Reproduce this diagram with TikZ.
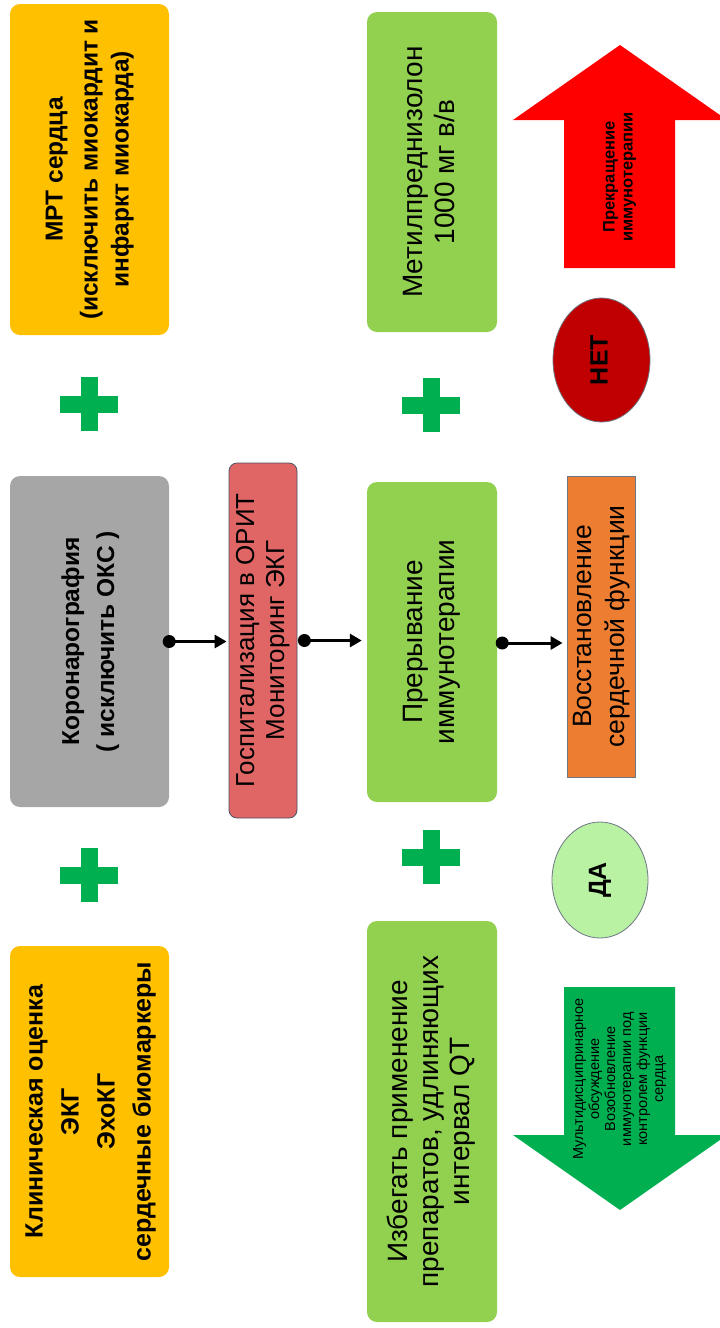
\documentclass[tikz,border=0pt]{standalone}
\usepackage{fontspec}
\setmainfont{Liberation Sans}
\usepackage{graphicx}
\usetikzlibrary{arrows.meta,shapes.geometric}
\definecolor{cyellow}{HTML}{FFC000}
\definecolor{cgray}{HTML}{A6A6A6}
\definecolor{cgreen}{HTML}{92D050}
\definecolor{cpink}{HTML}{E06666}
\definecolor{corange}{HTML}{ED7D31}
\definecolor{cred}{HTML}{FF0000}
\definecolor{cdred}{HTML}{C00000}
\definecolor{cbgreen}{HTML}{00B050}
\definecolor{clgreen}{HTML}{B9F2A3}
\definecolor{cborder}{HTML}{4A5266}
\newcommand{\vtxt}[3]{\rotatebox{90}{\fontsize{#1}{#2}\selectfont\begin{tabular}{@{}c@{}}#3\end{tabular}}}
\tikzset{
  rbox/.style={rectangle, rounded corners=10, inner sep=0, text=black},
  conn/.style={line width=3, -{Triangle[length=12,width=13]}},
  dot/.style={fill=black},
  plus/.style={fill=cbgreen},
}
\begin{document}
\begin{tikzpicture}[x=1pt,y=-1pt]
\useasboundingbox (0,0) rectangle (720,1328);
\clip (0,0) rectangle (720,1328);
% left column
\node[rbox, fill=cyellow, minimum width=159, minimum height=331] (mrt) at (89.5,169.5)
  {\vtxt{24.5}{31}{\bfseries МРТ сердца\\[4pt] \bfseries (исключить миокардит и\\ \bfseries инфаркт миокарда)}};
\node[rbox, fill=cgray, minimum width=159, minimum height=331] (koro) at (89.5,641.5)
  {\vtxt{24.5}{35}{\bfseries Коронарография\\ \bfseries ( исключить ОКС )}};
\node[rbox, fill=cyellow, minimum width=159, minimum height=331] (clin) at (89.5,1111.5)
  {\vtxt{25}{36}{\bfseries Клиническая оценка\\ \bfseries ЭКГ\\ \bfseries ЭхоКГ\\ \bfseries сердечные биомаркеры}};
% hospital
\node[rbox, rounded corners=8, fill=cpink, draw=cborder, line width=0.8, minimum width=68, minimum height=355] (gosp) at (263,640.5)
  {\vtxt{26}{30}{Госпитализация в ОРИТ\\ Мониторинг ЭКГ}};
% green boxes
\node[rbox, fill=cgreen, minimum width=130, minimum height=320] (metil) at (432,172)
  {\vtxt{28}{32}{Метилпреднизолон\\ 1000 мг в/в}};
\node[rbox, fill=cgreen, minimum width=130, minimum height=320] (prer) at (432,642)
  {\vtxt{28}{32}{Прерывание\\ иммунотерапии}};
\node[rbox, fill=cgreen, minimum width=130, minimum height=401] (izbeg) at (432,1121.5)
  {\vtxt{28}{31}{Избегать применение\\ препаратов, удлиняющих\\ интервал QT}};
% restoration
\node[rectangle, inner sep=0, fill=corange, draw=cborder!80, line width=0.8, minimum width=68, minimum height=301] (vosst) at (601,626.5)
  {\vtxt{26.5}{33}{Восстановление\\ сердечной функции}};
% ellipses
\node[ellipse, inner sep=0, fill=cdred, draw=cborder!80, line width=0.8, minimum width=97, minimum height=124] (net) at (601.5,360)
  {\vtxt{25}{30}{\bfseries НЕТ}};
\node[ellipse, inner sep=0, fill=clgreen, draw=cborder!80, line width=0.8, minimum width=96, minimum height=116] (da) at (600,880)
  {\vtxt{25}{30}{\bfseries ДА}};
% big arrows
\fill[cred] (564,268) -- (564,120) -- (513,120) -- (620,45) -- (727,120) -- (675,120) -- (675,268) -- cycle;
\node[inner sep=0] (stop) at (620,177) {\vtxt{16.5}{18}{\bfseries Прекращение\\ \bfseries иммунотерапии}};
\fill[cbgreen] (564,987) -- (675,987) -- (675,1135) -- (727,1135) -- (620,1210) -- (513,1135) -- (564,1135) -- cycle;
\node[inner sep=0] (resume) at (620,1079) {\vtxt{14.5}{16}{Мультидисципринарное\\ обсуждение\\ Возобновление\\ иммунотерапии под\\ контролем функции\\ сердца}};
% plus signs
\foreach \cx/\cy in {89/404, 431/405, 89/875, 431/857}{
  \fill[plus] (\cx-29,\cy-8.5) rectangle (\cx+29,\cy+8.5);
  \fill[plus] (\cx-8.5,\cy-27) rectangle (\cx+8.5,\cy+27);
}
% connectors
\coordinate (s1) at (koro.east);
\coordinate (s2) at ([xshift=7]gosp.east);
\coordinate (s3) at ([xshift=5,yshift=-1]prer.east);
\draw[conn] (s1) -- ([xshift=-2]s1 -| gosp.west);
\fill[dot] (s1) circle (6.5);
\draw[conn] (s2) -- ([xshift=-5]s2 -| prer.west);
\fill[dot] (s2) circle (6.5);
\draw[conn] (s3) -- ([xshift=-4]s3 -| vosst.west);
\fill[dot] (s3) circle (6.5);
\end{tikzpicture}
\end{document}
